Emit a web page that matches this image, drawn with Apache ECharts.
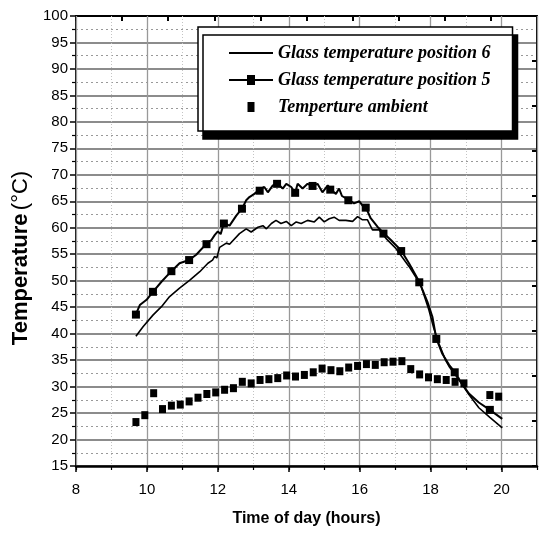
<!DOCTYPE html>
<html>
<head>
<meta charset="utf-8">
<script src="https://cdn.jsdelivr.net/npm/echarts@6/dist/echarts.min.js"></script>
<style>html,body{margin:0;padding:0;background:#fff;}#c{width:539px;height:534px;}</style>
</head>
<body>
<div id="c"></div>
<script>
// ---- data ----
const xTickLabels = [8, 10, 12, 14, 16, 18, 20];
const yTickLabels = [15, 20, 25, 30, 35, 40, 45, 50, 55, 60, 65, 70, 75, 80, 85, 90, 95, 100];

const pos6Hours = [9.69, 9.89, 10.17, 10.41, 10.64, 10.92, 11.21, 11.49, 11.72, 11.85, 11.91, 11.97, 12.05, 12.24, 12.33, 12.61, 12.80, 12.94, 13.13, 13.27, 13.37, 13.51, 13.64, 13.78, 13.93, 14.07, 14.21, 14.35, 14.53, 14.72, 14.86, 15.00, 15.14, 15.28, 15.42, 15.61, 15.80, 15.94, 16.08, 16.22, 16.36, 16.55, 16.74, 17.02, 17.39, 17.72, 17.95, 18.09, 18.23, 18.42, 18.52, 18.70, 18.90, 19.08, 19.36, 19.67, 20.02];
const pos6Temps = [39.5, 41.3, 43.5, 45.1, 47.0, 48.6, 50.1, 51.7, 53.3, 53.9, 54.6, 54.3, 56.3, 57.1, 56.9, 58.9, 59.8, 59.2, 60.1, 60.4, 59.8, 60.8, 61.4, 60.8, 61.2, 60.4, 61.1, 60.8, 61.4, 61.1, 62.0, 61.1, 61.7, 62.0, 61.4, 61.4, 61.2, 62.1, 61.5, 61.5, 59.6, 59.6, 58.0, 56.1, 52.7, 49.2, 44.5, 41.0, 38.2, 35.0, 33.8, 32.2, 30.3, 28.5, 26.0, 24.2, 22.2];

const pos5Hours = [9.69, 9.80, 9.99, 10.17, 10.41, 10.69, 10.92, 11.19, 11.39, 11.68, 11.82, 11.91, 12.00, 12.08, 12.17, 12.33, 12.52, 12.69, 12.80, 12.89, 13.03, 13.17, 13.31, 13.41, 13.55, 13.69, 13.83, 13.93, 14.07, 14.18, 14.25, 14.39, 14.53, 14.67, 14.81, 14.95, 15.10, 15.19, 15.33, 15.42, 15.50, 15.68, 15.84, 15.99, 16.08, 16.17, 16.31, 16.50, 16.67, 16.88, 17.17, 17.39, 17.68, 17.91, 18.05, 18.16, 18.33, 18.52, 18.68, 18.85, 19.08, 19.36, 19.67, 20.02];
const pos5Temps = [43.7, 45.4, 46.4, 47.9, 49.8, 51.8, 53.3, 53.9, 54.9, 57.0, 57.7, 58.6, 59.3, 58.8, 60.9, 60.4, 62.3, 63.7, 65.2, 65.8, 66.4, 67.2, 67.7, 66.7, 68.0, 68.3, 67.4, 68.3, 67.7, 66.6, 68.3, 67.4, 68.3, 67.9, 68.3, 66.7, 68.0, 67.2, 66.4, 67.4, 66.0, 65.3, 64.6, 65.0, 64.2, 63.9, 61.8, 60.2, 59.0, 57.7, 55.7, 53.3, 49.8, 46.0, 43.2, 39.1, 36.2, 34.1, 32.8, 30.9, 28.7, 27.0, 25.6, 23.9];

const pos5MarkerHours = [9.69, 10.17, 10.69, 11.19, 11.68, 12.17, 12.68, 13.18, 13.67, 14.18, 14.67, 15.17, 15.68, 16.17, 16.67, 17.17, 17.68, 18.16, 18.68, 19.67];
const pos5MarkerTemps = [43.6, 47.9, 51.8, 53.9, 56.9, 60.8, 63.6, 67.0, 68.3, 66.6, 67.9, 67.2, 65.2, 63.8, 58.9, 55.6, 49.7, 39.0, 32.7, 25.6];

const ambientHours = [9.69, 9.94, 10.19, 10.44, 10.69, 10.94, 11.19, 11.44, 11.69, 11.94, 12.19, 12.44, 12.69, 12.94, 13.19, 13.44, 13.69, 13.94, 14.19, 14.44, 14.69, 14.94, 15.19, 15.44, 15.69, 15.94, 16.19, 16.44, 16.69, 16.94, 17.19, 17.44, 17.69, 17.94, 18.19, 18.44, 18.69, 18.94, 19.67, 19.92];
const ambientTemps = [23.3, 24.6, 28.75, 25.75, 26.4, 26.6, 27.2, 27.9, 28.6, 28.9, 29.4, 29.7, 30.9, 30.6, 31.25, 31.4, 31.6, 32.1, 31.9, 32.2, 32.7, 33.4, 33.1, 32.9, 33.6, 33.9, 34.25, 34.1, 34.6, 34.7, 34.8, 33.3, 32.3, 31.75, 31.4, 31.25, 30.9, 30.6, 28.4, 28.1];

const zip = (a, b) => a.map((v, i) => [v, b[i]]);

const chart = echarts.init(document.getElementById('c'), null, {renderer: 'canvas'});
const sans = 'Liberation Sans, Arial, sans-serif';
const serif = 'Liberation Serif, Times New Roman, serif';

const option = {
  animation: false,
  backgroundColor: '#fff',
  color: ['#000'],
  grid: {left: 76, right: 2, top: 16, bottom: 68, containLabel: false},
  legend: {
    orient: 'vertical',
    left: 198, top: 27,
    padding: [16, 22, 14, 31],
    itemWidth: 44, itemHeight: 10, itemGap: 7,
    backgroundColor: '#fff', borderColor: '#000', borderWidth: 1.5,
    shadowColor: '#000', shadowOffsetX: 5, shadowOffsetY: 8, shadowBlur: 0,
    selectedMode: false,
    textStyle: {fontFamily: serif, fontStyle: 'italic', fontWeight: 'bold', fontSize: 18, color: '#000', lineHeight: 20},
    data: [
      {name: 'Glass temperature position 6', icon: 'path://M0,0H44V1.8H0Z'},
      {name: 'Glass temperature position 5', icon: 'path://M0,4H44V6H0Z M18,0H26V10H18Z'},
      {name: 'Temperture ambient', icon: 'path://M0,0H7V10H0Z'}
    ]
  },
  xAxis: [
    { // main axis: labels, long ticks, solid grid
      type: 'value', position: 'bottom', min: 8, max: 21, interval: 2,
      name: 'Time of day (hours)', nameLocation: 'middle', nameGap: 45,
      nameTextStyle: {fontFamily: sans, fontWeight: 'bold', fontSize: 16, color: '#000'},
      axisLine: {show: true, lineStyle: {color: '#000', width: 2.5}},
      axisTick: {show: true, inside: false, length: 6, lineStyle: {color: '#000', width: 1.5}},
      axisLabel: {show: true, showMaxLabel: false, margin: 16, color: '#000', fontFamily: sans, fontSize: 15,
        formatter: v => xTickLabels.indexOf(v) >= 0 ? String(v) : ''},
      splitLine: {show: true, lineStyle: {color: '#999', width: 1.3}},
      z: 3
    },
    { // hourly minor ticks and dotted grid
      type: 'value', position: 'bottom', min: 8, max: 21, interval: 1,
      axisLine: {show: false},
      axisTick: {show: true, inside: false, length: 4, lineStyle: {color: '#000', width: 1.2}},
      axisLabel: {show: false},
      splitLine: {show: true, lineStyle: {color: '#c4c4c4', width: 1, type: [1, 2]}},
      z: 2
    },
    { // top frame
      type: 'value', position: 'top', min: 0, max: 10, interval: 1,
      axisLine: {show: true, lineStyle: {color: '#000', width: 2}},
      axisTick: {show: true, inside: true, length: 5, lineStyle: {color: '#000', width: 2}},
      axisLabel: {show: false},
      splitLine: {show: false}
    }
  ],
  yAxis: [
    {
      type: 'value', position: 'left', min: 15, max: 100, interval: 5,
      name: '{b|Temperature} {n|(°C)}', nameLocation: 'middle', nameGap: 37,
      nameTextStyle: {padding: [0, 34, 0, 0], rich: {
        b: {fontFamily: sans, fontWeight: 'bold', fontSize: 22, color: '#000'},
        n: {fontFamily: sans, fontSize: 22, color: '#000'}
      }},
      axisLine: {show: true, lineStyle: {color: '#111', width: 2}},
      axisTick: {show: true, inside: false, length: 6, lineStyle: {color: '#000', width: 1.5}},
      minorTick: {show: true, splitNumber: 2, length: 4, lineStyle: {color: '#000', width: 1.2}},
      axisLabel: {show: true, margin: 8, color: '#000', fontFamily: sans, fontSize: 15,
        formatter: v => yTickLabels.indexOf(v) >= 0 ? String(v) : ''},
      splitLine: {show: true, lineStyle: {color: '#8c8c8c', width: 2}},
      minorSplitLine: {show: true, lineStyle: {color: '#999', width: 1, type: [2, 3]}}
    },
    { // right frame
      type: 'value', position: 'right', min: 0, max: 10, interval: 1,
      axisLine: {show: true, lineStyle: {color: '#000', width: 2}},
      axisTick: {show: true, inside: true, length: 5, lineStyle: {color: '#000', width: 2}},
      axisLabel: {show: false},
      splitLine: {show: false}
    }
  ],
  series: [
    {
      name: 'Glass temperature position 6', type: 'line', xAxisIndex: 0, yAxisIndex: 0,
      data: zip(pos6Hours, pos6Temps), symbol: 'none',
      lineStyle: {color: '#000', width: 1.6}, z: 4
    },
    {
      name: 'Glass temperature position 5', type: 'line', xAxisIndex: 0, yAxisIndex: 0,
      data: zip(pos5Hours, pos5Temps), symbol: 'none',
      lineStyle: {color: '#000', width: 2}, z: 4
    },
    {
      name: 'Glass temperature position 5', type: 'scatter', xAxisIndex: 0, yAxisIndex: 0,
      data: zip(pos5MarkerHours, pos5MarkerTemps), symbol: 'rect', symbolSize: 8,
      itemStyle: {color: '#000', opacity: 1}, z: 5
    },
    {
      name: 'Temperture ambient', type: 'scatter', xAxisIndex: 0, yAxisIndex: 0,
      data: zip(ambientHours, ambientTemps), symbol: 'rect', symbolSize: [7, 8],
      itemStyle: {color: '#000', opacity: 1}, z: 5
    }
  ]
};
chart.setOption(option);
</script>
</body>
</html>
